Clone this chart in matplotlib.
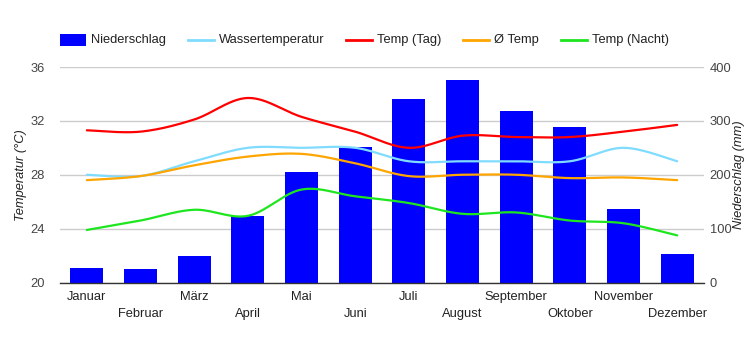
import numpy as np
import matplotlib
matplotlib.use("Agg")
import matplotlib.pyplot as plt
from matplotlib.lines import Line2D
from matplotlib.patches import Rectangle

months = ["Januar", "Februar", "März", "April", "Mai", "Juni", "Juli",
          "August", "September", "Oktober", "November", "Dezember"]
niederschlag = [27, 25, 49, 124, 205, 252, 341, 376, 319, 289, 136, 53]
wassertemp = [28.0, 27.9, 29.0, 30.0, 30.0, 30.0, 29.0, 29.0, 29.0, 29.0, 30.0, 29.0]
temp_tag = [31.3, 31.2, 32.1, 33.7, 32.3, 31.2, 30.0, 30.9, 30.8, 30.8, 31.2, 31.7]
temp_avg = [27.6, 27.9, 28.7, 29.35, 29.55, 28.85, 27.9, 28.0, 28.0, 27.75, 27.8, 27.6]
temp_nacht = [23.9, 24.6, 25.4, 24.95, 26.9, 26.4, 25.9, 25.1, 25.2, 24.6, 24.4, 23.5]

plt.rcParams['font.family'] = ['Liberation Sans', 'DejaVu Sans']
FS = 9.3

def smooth(xs, ys, n=30, t=0.5):
    xs = np.asarray(xs, float); ys = np.asarray(ys, float)
    px, py = [], []
    N = len(xs)
    for i in range(N - 1):
        x0, y0 = xs[max(i - 1, 0)], ys[max(i - 1, 0)]
        x1, y1 = xs[i], ys[i]
        x2, y2 = xs[i + 1], ys[i + 1]
        x3, y3 = xs[min(i + 2, N - 1)], ys[min(i + 2, N - 1)]
        c1x = x1 + (x2 - x0) * t / 3; c1y = y1 + (y2 - y0) * t / 3
        c2x = x2 - (x3 - x1) * t / 3; c2y = y2 - (y3 - y1) * t / 3
        s = np.linspace(0, 1, n, endpoint=(i == N - 2))
        bx = (1-s)**3*x1 + 3*(1-s)**2*s*c1x + 3*(1-s)*s**2*c2x + s**3*x2
        by = (1-s)**3*y1 + 3*(1-s)**2*s*c1y + 3*(1-s)*s**2*c2y + s**3*y2
        px.extend(bx); py.extend(by)
    return np.array(px), np.array(py)

W, H = 750, 350
fig = plt.figure(figsize=(7.5, 3.5), dpi=100)
ax = fig.add_axes([60/W, 1 - 282.5/H, 644/W, 215.5/H])
ax2 = ax.twinx()

x = np.arange(12)
ax2.bar(x, niederschlag, width=0.61, color='#0000ff', zorder=3)
ax2.set_ylim(0, 400)
ax2.set_yticks([0, 100, 200, 300, 400])
ax2.yaxis.grid(True, color='#cccccc', linewidth=1, zorder=0)
ax2.set_axisbelow(True)

ax.set_zorder(ax2.get_zorder() + 1)
ax.patch.set_visible(False)

colors = {'Wassertemperatur': '#80dcff', 'Temp (Tag)': '#ff0000',
          'Ø Temp': '#ffa500', 'Temp (Nacht)': '#1ee61e'}
series = [(wassertemp, colors['Wassertemperatur']), (temp_tag, colors['Temp (Tag)']),
          (temp_avg, colors['Ø Temp']), (temp_nacht, colors['Temp (Nacht)'])]
for ys, c in series:
    sx, sy = smooth(x, ys)
    ax.plot(sx, sy, color=c, linewidth=1.6, solid_capstyle='round')

ax.set_ylim(20, 36)
ax.set_yticks([20, 24, 28, 32, 36])
ax.set_xlim(-0.5, 11.5)
ax.set_xticks(x)
ax.set_xticklabels(["" for _ in months])
for i, m in enumerate(months):
    ax.text(i, 20 - (1.1 if i % 2 == 0 else 2.35), m, ha='center', va='center',
            fontsize=FS, color='#222222')

for a in (ax, ax2):
    for sp in a.spines.values():
        sp.set_visible(False)
    a.tick_params(length=0, labelsize=FS, labelcolor='#444444')
ax.spines['bottom'].set_visible(True)
ax.spines['bottom'].set_color('#333333')
ax.spines['bottom'].set_linewidth(1)
ax.tick_params(axis='y', pad=11)
ax2.tick_params(axis='y', pad=4)

ax.set_ylabel('Temperatur (°C)', fontsize=FS, style='italic', color='#222222', labelpad=2)
ax2.set_ylabel('Niederschlag (mm)', fontsize=FS, style='italic', color='#222222',
               rotation=90, labelpad=1)

# legend (manual placement)
ly = 1 - 40/H
fig.patches.append(Rectangle((60/W, 1 - 46/H), 26/W, 12/H, transform=fig.transFigure,
                             facecolor='#0000ff', edgecolor='none'))
fig.text(91/W, ly, 'Niederschlag', fontsize=FS, va='center', ha='left', color='#222222')
items = [('Wassertemperatur', 188), ('Temp (Tag)', 346), ('Ø Temp', 463), ('Temp (Nacht)', 561)]
for lab, x0 in items:
    fig.add_artist(Line2D([x0/W, (x0 + 26)/W], [ly, ly], transform=fig.transFigure,
                          color=colors[lab], lw=2))
    fig.text((x0 + 31)/W, ly, lab, fontsize=FS, va='center', ha='left', color='#222222')

fig.savefig('out.png', dpi=100)
